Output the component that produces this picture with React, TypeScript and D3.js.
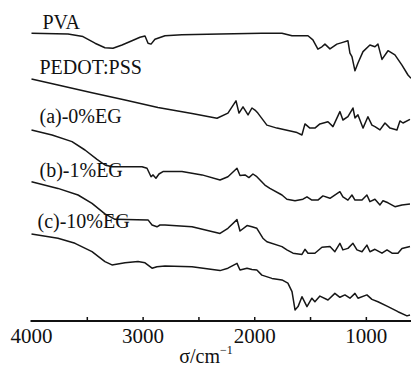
import React from "react";
import * as d3 from "d3";

// wavenumber (cm^-1) and transmittance (a.u.)
const pvaW = [4000,3673,3539,3431,3342,3270,3189,3100,3028,2983,2956,2929,2894,2804,2652,2311,1936,1756,1666,1523,1479,1434,1398,1371,1326,1264,1219,1165,1147,1129,1102,1075,1030,968,923,896,860,806,744,681,627,600];
const pvaT = [95.9,95.7,94.8,92.6,91.1,90.9,92.0,93.4,94.6,95.0,92.6,92.3,93.9,95.1,95.4,95.7,95.9,95.9,95.1,95.1,93.7,90.6,91.4,92.3,90.7,92.3,92.8,93.4,89.3,88.1,83.4,86.0,89.8,92.0,91.4,92.3,87.2,90.1,88.7,85.3,82.0,80.9];

const pedotW = [4000,3763,3458,3162,2867,2562,2338,2240,2168,2141,2105,2060,2025,1998,1972,1891,1801,1621,1577,1550,1506,1461,1416,1344,1299,1237,1210,1165,1120,1102,1075,1030,986,950,923,878,833,788,726,699,672,609];
const pedotT = [80.7,78.7,76.1,73.7,71.2,69.2,67.6,69.3,73.4,69.3,71.4,68.7,71.0,70.3,69.3,65.3,64.3,62.8,62.0,65.7,64.3,64.3,65.7,66.4,64.8,69.8,67.0,68.1,71.0,67.7,68.7,64.3,68.1,65.3,64.8,63.7,66.0,64.3,63.7,66.7,66.0,67.2];

const aW = [4000,3816,3637,3521,3413,3342,3279,3010,2965,2929,2911,2885,2858,2822,2652,2472,2311,2240,2159,2132,2087,2052,2016,1981,1909,1864,1756,1712,1639,1568,1532,1488,1434,1389,1326,1237,1210,1165,1129,1102,1039,995,968,923,878,851,806,744,681,609];
const aT = [63.7,62.0,59.8,57.0,53.9,52.0,51.4,51.4,50.9,48.1,48.7,47.6,49.0,49.8,49.8,48.7,47.0,48.1,50.9,48.5,48.7,47.8,49.0,48.1,45.3,44.2,42.0,40.6,40.1,40.6,41.4,40.3,40.3,41.7,40.9,43.1,41.4,40.3,42.0,40.3,40.3,42.0,39.8,40.6,38.7,40.1,39.4,38.1,38.7,39.0];

const bW = [4000,3763,3583,3458,3342,3252,2956,2920,2876,2849,2804,2562,2311,2240,2159,2132,2069,2025,1981,1927,1891,1756,1712,1657,1577,1550,1523,1461,1398,1326,1282,1237,1210,1165,1120,1084,1039,995,968,923,860,815,770,717,681,609];
const bT = [46.4,44.2,42.0,39.2,35.7,33.9,33.7,32.0,31.4,32.0,32.0,31.4,29.2,30.9,33.8,30.0,31.8,31.4,30.9,27.6,26.4,24.8,23.7,22.6,22.2,23.9,22.6,22.6,24.6,24.8,23.1,25.9,23.7,24.2,25.9,23.7,23.1,25.3,23.1,23.9,22.6,23.7,22.6,22.6,24.2,24.8];

const cW = [4000,3763,3610,3458,3342,3279,3162,3046,2983,2920,2876,2804,2562,2311,2240,2159,2132,2069,2025,1981,1936,1846,1756,1703,1666,1639,1612,1577,1532,1488,1461,1416,1344,1282,1237,1192,1147,1102,1075,995,950,896,806,717,636,609];
const cT = [29.0,27.6,25.9,23.1,19.8,18.7,19.4,19.8,19.4,17.6,18.1,18.3,18.1,16.8,17.6,19.2,17.0,17.6,17.2,17.0,15.3,14.2,13.7,12.6,9.8,3.7,4.8,8.1,4.8,7.6,6.4,8.3,7.0,9.2,7.9,8.7,7.6,9.2,7.6,8.7,7.2,6.4,4.8,3.1,1.7,2.0];

const seriesNames = ["PVA", "PEDOT:PSS", "(a)-0%EG", "(b)-1%EG", "(c)-10%EG"];
const seriesW = [pvaW, pedotW, aW, bW, cW];
const seriesT = [pvaT, pedotT, aT, bT, cT];
const labelT = [97.3, 82.3, 65.9, 48.1, 31.0];

const majorTicks = [4000, 3000, 2000, 1000];
const allTicks = [3500, 3000, 2500, 2000, 1500, 1000];

const W = 411;
const H = 367;

export default function App() {
  const x = d3.scaleLinear().domain([4000, 600]).range([31.5, 411]);
  const y = d3.scaleLinear().domain([0, 100]).range([321, 21]);
  const line = d3
    .line<[number, number]>()
    .x((d) => x(d[0]))
    .y((d) => y(d[1]))
    .curve(d3.curveLinear);
  const font = "'Liberation Serif', 'Times New Roman', serif";
  const axisY = y(0);

  return (
    <svg
      width={W}
      height={H}
      style={{ position: "absolute", left: 0, top: 0, background: "#fff" }}
      fontFamily={font}
    >
      <rect x={0} y={0} width={W} height={H} fill="#fff" />
      {seriesW.map((ws, i) => (
        <path
          key={i}
          d={line(ws.map((w, j) => [w, seriesT[i][j]]) as [number, number][]) || ""}
          fill="none"
          stroke="#161616"
          strokeWidth={1.5}
          strokeLinejoin="round"
        />
      ))}
      {seriesNames.map((n, i) => (
        <text
          key={n}
          x={x(4000) + (i === 0 ? 11 : i === 4 ? 6 : 8)}
          y={y(labelT[i])}
          fontSize={20}
          fill="#111"
        >
          {n}
        </text>
      ))}
      <line x1={x(4000) - 1} x2={W} y1={axisY} y2={axisY} stroke="#111" strokeWidth={2} />
      {allTicks.map((t) => (
        <line key={t} x1={x(t)} x2={x(t)} y1={axisY} y2={axisY - 4} stroke="#111" strokeWidth={1.5} />
      ))}
      {majorTicks.map((t) => (
        <text key={t} x={x(t)} y={343} fontSize={21} textAnchor="middle" fill="#111">
          {t}
        </text>
      ))}
      <text x={206} y={363} fontSize={20} textAnchor="middle" fill="#111">
        σ/cm
        <tspan fontSize={12} dy={-9}>
          −1
        </tspan>
      </text>
    </svg>
  );
}
